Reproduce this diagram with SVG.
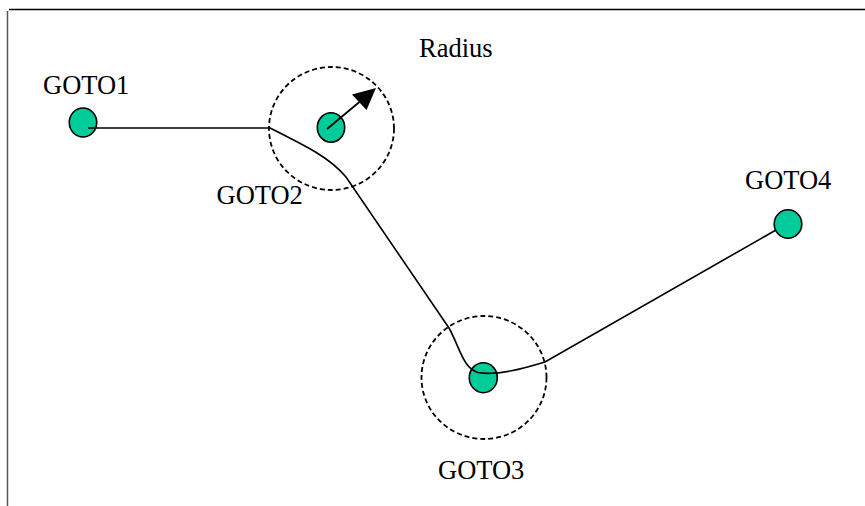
<svg xmlns="http://www.w3.org/2000/svg" width="865" height="506" viewBox="0 0 865 506">
  <style>
    .label { font-family: "Liberation Serif", "Times New Roman", serif; font-size: 26.5px; fill: #000; }
    .node { fill: #00CC99; stroke: #000; stroke-width: 1.6; }
    .zone { fill: none; stroke: #000; stroke-width: 1.8; stroke-dasharray: 5 3; }
    .route { fill: none; stroke: #000; stroke-width: 1.6; }
  </style>
  <rect x="0" y="0" width="865" height="506" fill="#fff"/>

  <!-- frame -->
  <line x1="9" y1="9.5" x2="865" y2="9.5" stroke="#000" stroke-width="1.5"/>
  <line x1="7.5" y1="11" x2="7.5" y2="506" stroke="#555" stroke-width="1.5"/>

  <!-- capture radii -->
  <g id="radius-goto2">
    <ellipse class="zone" cx="331.5" cy="128.5" rx="62.5" ry="61.5"/>
  </g>
  <g id="radius-goto3">
    <ellipse class="zone" cx="484" cy="377.5" rx="62.5" ry="61.5"/>
  </g>

  <!-- waypoints -->
  <g id="goto1">
    <ellipse class="node" cx="83" cy="122.5" rx="13.7" ry="14.5"/>
    <text class="label" x="43" y="94">GOTO1</text>
  </g>
  <g id="goto2">
    <ellipse class="node" cx="331" cy="127.5" rx="13.7" ry="14.7"/>
    <text class="label" x="216.5" y="204">GOTO2</text>
  </g>
  <g id="goto3">
    <ellipse class="node" cx="483.3" cy="377.7" rx="14" ry="15"/>
    <text class="label" x="438" y="479">GOTO3</text>
  </g>
  <g id="goto4">
    <ellipse class="node" cx="788" cy="224" rx="13.8" ry="14.2"/>
    <text class="label" x="745" y="189">GOTO4</text>
  </g>

  <!-- path and radius indicator -->
  <g id="connectors">
    <path class="route" d="M88,128 L270,128 C308,147 330,158 346,177 L449,328 C460,348 463,368 478,372.5 C498,376 525,368 545,362 L776,230"/>
    <line x1="327" y1="129" x2="360" y2="101.5" stroke="#000" stroke-width="1.8"/>
    <polygon points="376,88 352,94.5 366.5,110" fill="#000"/>
  </g>
  <g id="radius-label">
    <text class="label" x="419" y="56.5">Radius</text>
  </g>
</svg>
